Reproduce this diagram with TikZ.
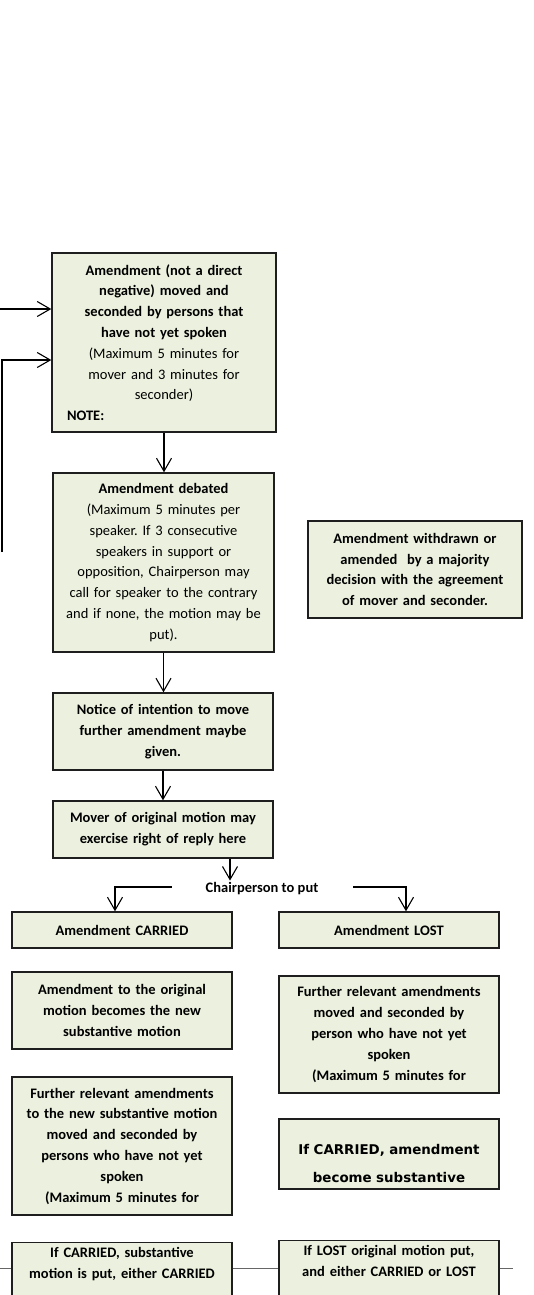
\documentclass[tikz,border=0pt]{standalone}
\usepackage{fontspec}
\setmainfont{Carlito}
\newfontfamily\bigfont{DejaVu Sans}
\usepackage{tikz}
\usetikzlibrary{arrows.meta}
\definecolor{boxfill}{RGB}{235,241,222}
\definecolor{boxline}{RGB}{30,30,30}
\tikzset{flow box/.style={draw=boxline,fill=boxfill,line width=1.4pt,rectangle,align=center,inner xsep=4pt,inner ysep=5pt,font=\fontsize{14.5pt}{20.8pt}\selectfont\bfseries}}
\tikzset{flow arrow/.style={line width=1.1pt,-{Straight Barb[length=13pt,width=15pt,line width=1.1pt]}}}
\tikzset{gray line/.style={line width=1pt,draw=black!60}}
\def\bx{\fontsize{14.5pt}{20.8pt}\selectfont\bfseries}
\frenchspacing

\begin{document}
\begin{tikzpicture}
        \useasboundingbox (0,0) rectangle (533pt,-1295pt);
        \clip (0,0) rectangle (533pt,-1295pt);

          %修正案の提出
          \node[flow box, text width=216pt, minimum height=179pt] (amend) at (164pt,-342.5pt) {Amendment (not a direct\\negative) moved and\\seconded by persons that\\have not yet spoken\\\mdseries (Maximum 5 minutes for\\mover and 3 minutes for\\seconder)\\\bfseries\makebox[\linewidth][l]{\hspace{11pt}NOTE:}};

          %討論
          \node[flow box, text width=213pt, minimum height=179pt] (debate) at (163.5pt,-562.5pt) {Amendment debated\\\mdseries (Maximum 5 minutes per\\speaker. If 3 consecutive\\speakers in support or\\opposition, Chairperson may\\call for speaker to the contrary\\and if none, the motion may be\\put).};

          %撤回
          \node[flow box, text width=206pt, minimum height=97pt] (withdraw) at (415pt,-569.5pt) {Amendment withdrawn or\\amended\ \ by a majority\\decision with the agreement\\of mover and seconder.};

          \node[flow box, text width=212pt, minimum height=77pt] (notice) at (163pt,-731.5pt) {Notice of intention to move\\further amendment maybe\\given.};
          \node[flow box, text width=212pt, minimum height=57pt] (reply) at (163pt,-829.5pt) {Mover of original motion may\\exercise right of reply here};

          %議長
          \node[font=\bx, inner sep=2pt] (chair) at (262pt,-889pt) {Chairperson to put};

          %可決・否決
          \node[flow box, text width=212pt, minimum height=36pt] (carried) at (122pt,-930pt) {Amendment CARRIED};
          \node[flow box, text width=212pt, minimum height=36pt] (lost) at (389pt,-930pt) {Amendment LOST};

          %左の列
          \node[flow box, text width=212pt, minimum height=77pt] (newmotion) at (122pt,-1010.5pt) {Amendment to the original\\motion becomes the new\\substantive motion};
          \node[flow box, text width=212pt, minimum height=138pt] (furthercar) at (122pt,-1146pt) {Further relevant amendments\\to the new substantive motion\\moved and seconded by\\persons who have not yet\\spoken\\(Maximum 5 minutes for};
          \node[flow box, text width=212pt, anchor=north] (subput) at (122pt,-1242pt) {If CARRIED, substantive\\motion is put, either CARRIED\\\mbox{}\\\mbox{}};

          %右の列
          \node[flow box, text width=212pt, minimum height=117pt] (furtherlost) at (389pt,-1034.5pt) {Further relevant amendments\\moved and seconded by\\person who have not yet\\spoken\\(Maximum 5 minutes for};
          \node[flow box, text width=212pt, minimum height=70pt, font=\bigfont\fontsize{13.4pt}{28pt}\selectfont\bfseries] (substant) at (389pt,-1154pt) {\rule{0pt}{29pt}If CARRIED, amendment\\become substantive};
          \node[flow box, text width=212pt, anchor=north] (origput) at (389pt,-1240pt) {If LOST original motion put,\\and either CARRIED or LOST\\\mbox{}\\\mbox{}};

          %左からの矢印
          \coordinate (in top) at (0pt,-309pt);
          \coordinate (in low) at (2pt,-552pt);
          \draw[flow arrow] (in top) -- (in top -| amend.west);
          \draw[flow arrow] (in low) |- ([yshift=-17.5pt]amend.west);

          %縦の矢印
          \draw[flow arrow] (amend.south) -- (amend.south |- debate.north);
          \draw[flow arrow] (debate.south) -- (debate.south |- notice.north);
          \draw[flow arrow] (notice.south) -- (notice.south |- reply.north);
          \draw[flow arrow] ([xshift=67pt]reply.south) -- ([xshift=67pt]reply.south |- chair.north);

          %chair->carried, chair->lost
          \draw[flow arrow] ([xshift=-32pt,yshift=2pt]chair.west) -| ([xshift=-7pt]carried.north);
          \draw[flow arrow] ([xshift=33pt,yshift=2pt]chair.east) -| ([xshift=17pt]lost.north);

          %下の線
          \coordinate (base l) at (0pt,-1268pt);
          \coordinate (base r) at (513pt,-1268pt);
          \draw[gray line] (base l) -- (base l -| subput.west) (base l -| subput.east) -- (base l -| origput.west) (base l -| origput.east) -- (base r);

        \end{tikzpicture}
\end{document}
